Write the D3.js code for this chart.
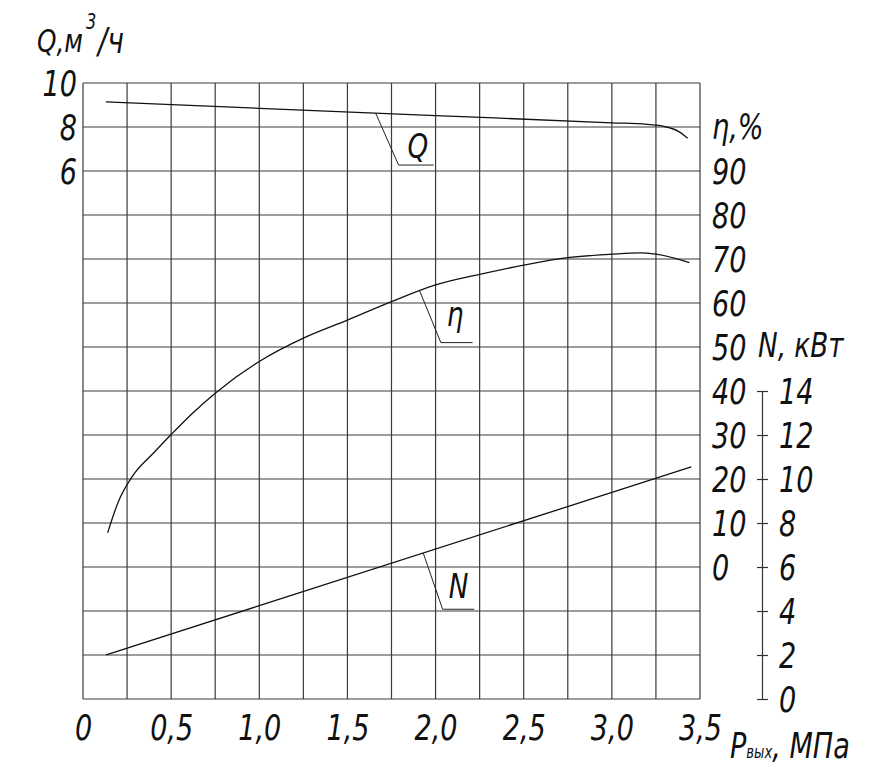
<!DOCTYPE html>
<html>
<head>
<meta charset="utf-8">
<script src="https://cdn.jsdelivr.net/npm/d3@7"></script>
<style>
  body { margin: 0; background: #fff; }
  text { font-family: "Liberation Sans Narrow", "DejaVu Sans Condensed", sans-serif; font-style: italic; fill: #111; }
</style>
</head>
<body>
<div id="wrapper"></div>
<script>
// tick values
const pressureTicks = [0, 0.5, 1.0, 1.5, 2.0, 2.5, 3.0, 3.5];
const flowTicks = [6, 8, 10];
const efficiencyTicks = [0, 10, 20, 30, 40, 50, 60, 70, 80, 90];
const powerTicks = [0, 2, 4, 6, 8, 10, 12, 14];

// Q, m3/h vs outlet pressure
const flowPressure = [0.13, 1.0, 2.0, 3.0, 3.2, 3.3, 3.38, 3.43];
const flowValues = [9.14, 8.85, 8.52, 8.19, 8.12, 8.02, 7.79, 7.49];

// efficiency, %
const efficiencyPressure = [0.14, 0.2, 0.28, 0.4, 0.5, 0.62, 0.75, 1.0, 1.25, 1.5, 1.75, 2.0, 2.25, 2.5, 2.75, 3.0, 3.16, 3.25, 3.44];
const efficiencyValues = [7.8, 14.8, 20.6, 25.9, 30.1, 34.9, 39.5, 46.7, 52.0, 56.1, 60.3, 64.1, 66.5, 68.6, 70.3, 71.1, 71.4, 71.1, 69.2];

// power, kW
const powerPressure = [0.13, 1.0, 3.45];
const powerValues = [2.0, 4.24, 10.55];

// leader labels: start on curve, bend, end of shelf (pressure units), label
const leaderNames = ["Q", "η", "N"];
const leaderStart = [1.66, 1.91, 1.93];
const leaderBend = [[1.79, 6.27], [2.03, 51], [2.04, 4.08]];
const leaderEnd = [1.99, 2.21, 2.22];
const leaderText = [[1.9, 6.6], [2.11, 54.8], [2.13, 4.6]];

function draw() {
  const width = 869, height = 783;
  const svg = d3.select("#wrapper").append("svg")
    .attr("width", width)
    .attr("height", height);

  const x = d3.scaleLinear().domain([0, 3.5]).range([83, 700]);
  const gridY = d3.scaleLinear().domain([0, 14]).range([699, 83]);
  const qY = d3.scaleLinear().domain([0, 10]).range([303, 83]);
  const etaY = d3.scaleLinear().domain([0, 90]).range([567, 171]);
  const nY = d3.scaleLinear().domain([0, 14]).range([699, 391]);
  const scales = [qY, etaY, nY];

  // grid
  const grid = svg.append("g").attr("stroke", "#3a3a3a").attr("stroke-width", 1.2);
  grid.selectAll(".v")
    .data(d3.range(0, 3.5001, 0.25))
    .join("line")
      .attr("x1", d => x(d)).attr("x2", d => x(d))
      .attr("y1", gridY(0)).attr("y2", gridY(14));
  grid.selectAll(".h")
    .data(d3.range(0, 15))
    .join("line")
      .attr("x1", x(0)).attr("x2", x(3.5))
      .attr("y1", d => gridY(d)).attr("y2", d => gridY(d));

  // curves
  const line = d3.line().curve(d3.curveMonotoneX);
  const curves = [
    [flowPressure, flowValues, qY],
    [efficiencyPressure, efficiencyValues, etaY],
    [powerPressure, powerValues, nY]
  ];
  curves.forEach(([px, vals, sy]) => {
    svg.append("path")
      .attr("d", line(px.map((p, i) => [x(p), sy(vals[i])])))
      .attr("fill", "none")
      .attr("stroke", "#111")
      .attr("stroke-width", 1.3);
  });

  // leaders
  leaderNames.forEach((name, i) => {
    const sy = scales[i];
    const onCurve = d3.scaleLinear().domain(curves[i][0]).range(curves[i][1]);
    const pts = [
      [x(leaderStart[i]), sy(onCurve(leaderStart[i]))],
      [x(leaderBend[i][0]), sy(leaderBend[i][1])],
      [x(leaderEnd[i]), sy(leaderBend[i][1])]
    ];
    svg.append("path")
      .attr("d", d3.line()(pts))
      .attr("fill", "none")
      .attr("stroke", "#222")
      .attr("stroke-width", 1);
    svg.append("text")
      .attr("x", x(leaderText[i][0]))
      .attr("y", sy(leaderText[i][1]))
      .attr("text-anchor", "middle")
      .attr("font-size", 34)
      .text(name);
  });

  // x axis labels
  svg.append("g")
    .attr("transform", "translate(0,699)")
    .call(d3.axisBottom(x).tickValues(pressureTicks).tickSize(0)
      .tickFormat(d => d === 0 ? "0" : d.toFixed(1).replace(".", ",")))
    .call(g => g.select(".domain").remove())
    .call(g => g.selectAll("text")
      .attr("y", 41).attr("dy", null)
      .attr("font-size", 35).attr("fill", "#111"));

  // Q axis labels
  svg.append("g")
    .attr("transform", "translate(83,0)")
    .call(d3.axisLeft(qY).tickValues(flowTicks).tickSize(0))
    .call(g => g.select(".domain").remove())
    .call(g => g.selectAll("text")
      .attr("x", -6).attr("dy", "0.36em")
      .attr("font-size", 35).attr("fill", "#111"));

  // efficiency labels
  svg.append("g")
    .attr("transform", "translate(700,0)")
    .call(d3.axisRight(etaY).tickValues(efficiencyTicks).tickSize(0))
    .call(g => g.select(".domain").remove())
    .call(g => g.selectAll("text")
      .attr("x", 12).attr("dy", "0.36em")
      .attr("font-size", 35).attr("fill", "#111"));

  // power axis
  const nAxis = svg.append("g")
    .attr("transform", "translate(762,0)")
    .call(d3.axisRight(nY).tickValues(powerTicks).tickSizeOuter(0).tickSizeInner(6));
  nAxis.select(".domain").attr("stroke", "#333").attr("stroke-width", 1.2);
  nAxis.selectAll(".tick line").attr("x1", -5).attr("x2", 6).attr("stroke", "#333").attr("stroke-width", 1.2);
  nAxis.selectAll("text")
    .attr("x", 17).attr("dy", "0.36em")
    .attr("font-size", 35).attr("fill", "#111");

  // axis titles
  svg.append("text").attr("x", 37).attr("y", 52).attr("font-size", 32).text("Q,м");
  svg.append("text").attr("x", 86).attr("y", 29).attr("font-size", 21).text("3");
  svg.append("text").attr("x", 98).attr("y", 53).attr("font-size", 36).text("/ч");

  svg.append("text").attr("x", 712).attr("y", 139).attr("font-size", 35).text("η,%");
  svg.append("text").attr("x", 758).attr("y", 357).attr("font-size", 34).text("N, кВт");

  const pt = svg.append("text").attr("x", 730).attr("y", 758).attr("font-size", 35);
  pt.append("tspan").text("P");
  pt.append("tspan").attr("font-size", 17).text("вых");
  pt.append("tspan").text(", МПа");

  // narrow drafting lettering: squeeze every label horizontally about its anchor
  svg.selectAll("text").each(function() {
    const t = d3.select(this);
    const tx = +t.attr("x") || 0, ty = +t.attr("y") || 0;
    t.attr("x", null).attr("y", null)
      .attr("transform", "translate(" + tx + "," + ty + ") scale(0.86,1)");
  });
}
draw();
</script>
</body>
</html>
